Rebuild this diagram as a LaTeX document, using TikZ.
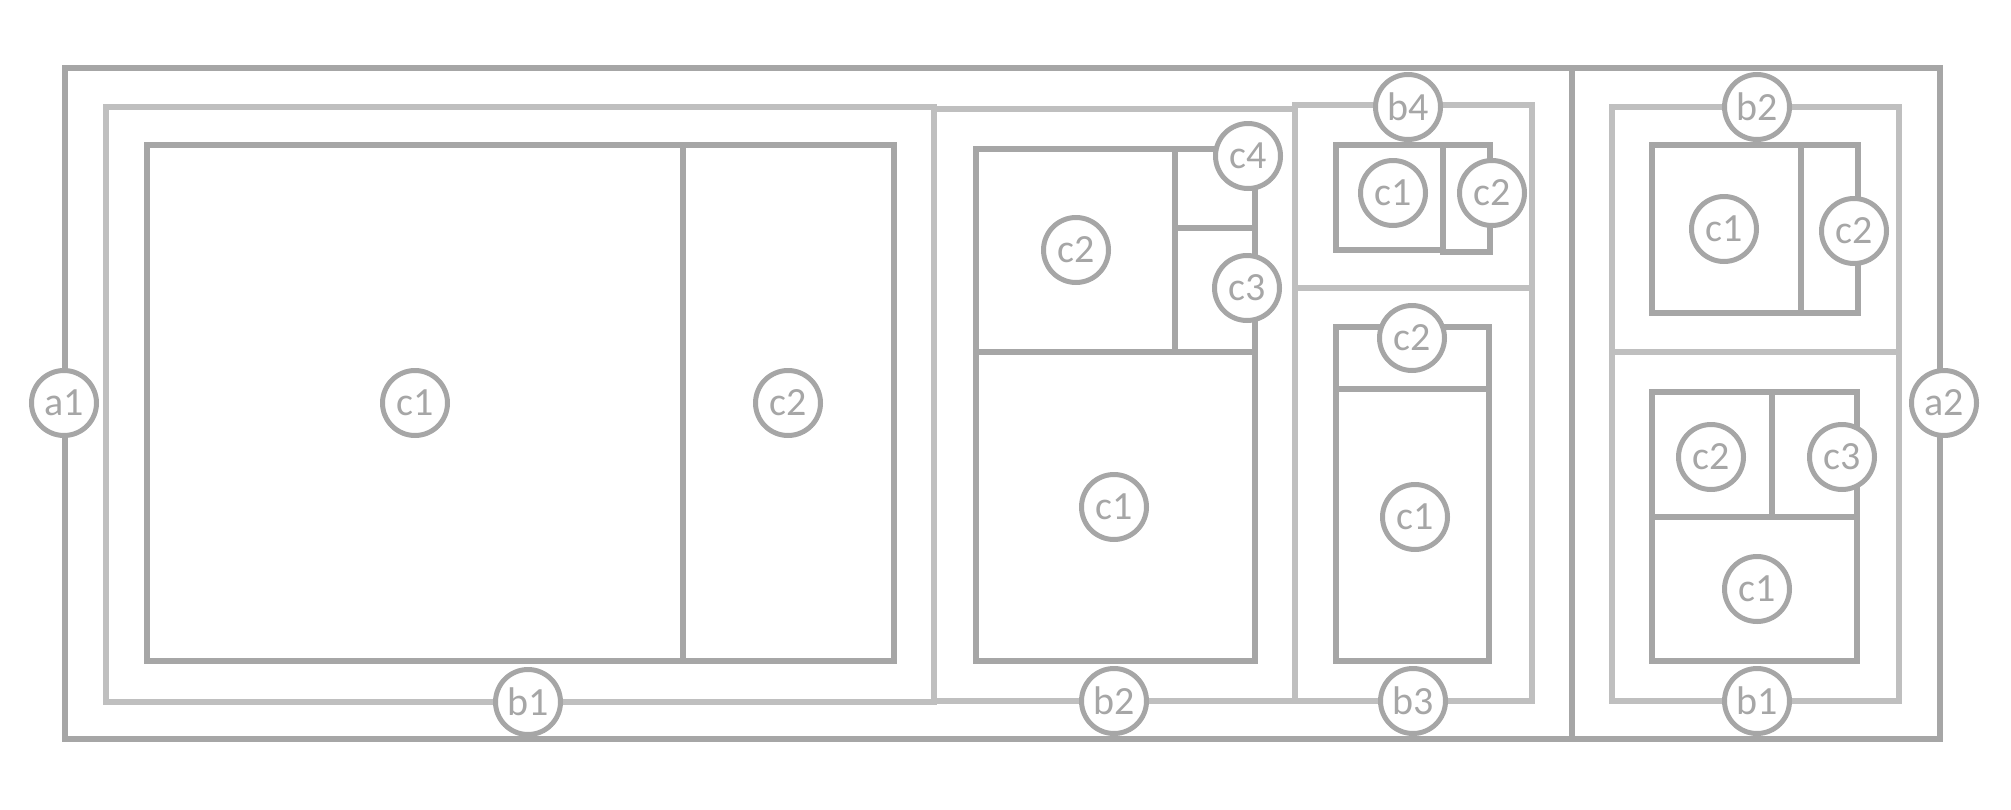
\documentclass[tikz,border=0pt]{standalone}
\usepackage{fontspec}
\setmainfont{Carlito}
\definecolor{dk}{HTML}{A6A6A6}
\definecolor{lt}{HTML}{BFBFBF}
\begin{document}
\begin{tikzpicture}[x=1pt,y=-1pt,
  arect/.style={draw=dk,line width=6.5pt},
  brect/.style={draw=lt,line width=6.5pt},
  crect/.style={draw=dk,line width=6.5pt},
  lab/.style={circle,draw=dk,line width=5pt,fill=white,text=dk,minimum size=65pt,inner sep=0pt,font=\fontsize{40}{40}\selectfont}]
\useasboundingbox (0,0) rectangle (2011,809);
% a level
\draw[arect] (65,68) rectangle (1940,739);
\draw[arect] (1572,68) -- (1572,739);
% b level, a1
\draw[brect] (106,107) rectangle (934,702);
\draw[brect] (934,109) rectangle (1295,701);
\draw[brect] (1295,105) rectangle (1532,288);
\draw[brect] (1295,288) rectangle (1532,701);
% b level, a2
\draw[brect] (1612,107) rectangle (1899,352);
\draw[brect] (1612,352) rectangle (1899,701);
% c level, a1/b1
\draw[crect] (147,145) rectangle (683,661);
\draw[crect] (683,145) rectangle (894,661);
% a1/b2
\draw[crect] (976,149) rectangle (1175,352);
\draw[crect] (1175,149) rectangle (1255,228);
\draw[crect] (1175,228) rectangle (1255,352);
\draw[crect] (976,352) rectangle (1255,661);
% a1/b3
\draw[crect] (1336,327) rectangle (1489,389);
\draw[crect] (1336,389) rectangle (1489,661);
% a1/b4
\draw[crect] (1336,145) rectangle (1443,250);
\draw[crect] (1443,145) rectangle (1490,252);
% a2/b2
\draw[crect] (1652,145) rectangle (1801,313);
\draw[crect] (1801,145) rectangle (1858,313);
% a2/b1
\draw[crect] (1652,392) rectangle (1772,517);
\draw[crect] (1772,392) rectangle (1857,517);
\draw[crect] (1652,517) rectangle (1857,661);
% labels
\node[lab] (a1) at (64,403) {a1};
\node[lab] (a2) at (1944,403) {a2};
\node[lab] (a1b1) at (528,702) {b1};
\node[lab] (a1b1c1) at (415,403) {c1};
\node[lab] (a1b1c2) at (788,403) {c2};
\node[lab] (a1b2) at (1114,701) {b2};
\node[lab] (a1b2c2) at (1076,250) {c2};
\node[lab] (a1b2c4) at (1248,156) {c4};
\node[lab] (a1b2c3) at (1247,288) {c3};
\node[lab] (a1b2c1) at (1114,507) {c1};
\node[lab] (a1b3) at (1413,701) {b3};
\node[lab] (a1b3c2) at (1412,338) {c2};
\node[lab] (a1b3c1) at (1415,517) {c1};
\node[lab] (a1b4) at (1408,107) {b4};
\node[lab] (a1b4c1) at (1393,193) {c1};
\node[lab] (a1b4c2) at (1492,193) {c2};
\node[lab] (a2b2) at (1757,107) {b2};
\node[lab] (a2b2c1) at (1724,229) {c1};
\node[lab] (a2b2c2) at (1854,231) {c2};
\node[lab] (a2b1) at (1757,701) {b1};
\node[lab] (a2b1c2) at (1711,457) {c2};
\node[lab] (a2b1c3) at (1842,457) {c3};
\node[lab] (a2b1c1) at (1757,589) {c1};
\end{tikzpicture}
\end{document}
